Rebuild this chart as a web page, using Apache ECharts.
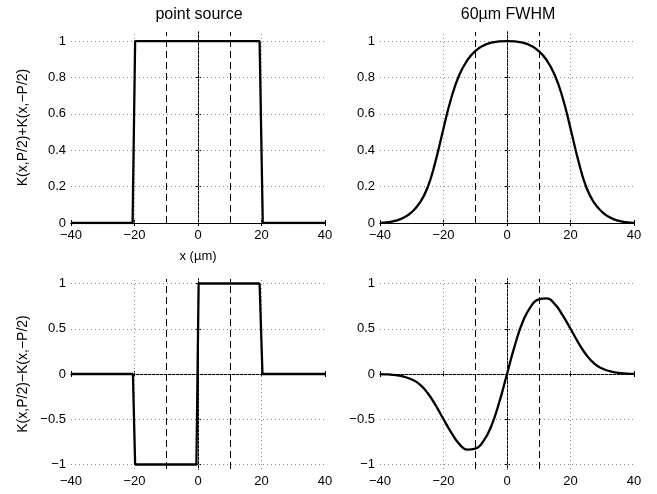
<!DOCTYPE html>
<html><head><meta charset="utf-8">
<script src="https://cdn.jsdelivr.net/npm/echarts@6/dist/echarts.min.js"></script>
<style>html,body{margin:0;padding:0;background:#fff}#c{width:657px;height:494px}</style>
</head><body><div id="c"></div>
<script>
// ---- data ----
const xTicks = [-40, -20, 0, 20, 40];
const sumTicks = [0, 0.2, 0.4, 0.6, 0.8, 1];
const diffTicks = [-1, -0.5, 0, 0.5, 1];
const gridX = [-20, 0, 20];
const markerX = [-10, 10];
const titles = ['point source', '60\u00b5m FWHM'];
const yNames = ['K(x,P/2)+K(x,\u2212P/2)', 'K(x,P/2)\u2212K(x,\u2212P/2)'];
const xName = 'x (\u00b5m)';

const pointSumX = [-40, -20.6, -19.8, 19.4, 20.4, 40];
const pointSumY = [0, 0, 1, 1, 0, 0];
const pointDiffX = [-40, -20.5, -19.8, -0.5, 0.2, 19.4, 20.3, 40];
const pointDiffY = [0, 0, -1, -1, 1, 1, 0, 0];

const blurX = [-40, -37.5, -35, -32.5, -30, -27.5, -25, -22.5, -20, -17.5, -15, -12.5, -10, -7.5, -5, -2.5,
  0, 2.5, 5, 7.5, 10, 12.5, 15, 17.5, 20, 22.5, 25, 27.5, 30, 32.5, 35, 37.5, 40];
const blurSumY = [0.001, 0.005, 0.013, 0.03, 0.06, 0.11, 0.195, 0.34, 0.52, 0.69, 0.815, 0.895, 0.945, 0.975, 0.991, 0.998,
  1.0, 0.998, 0.991, 0.975, 0.945, 0.895, 0.815, 0.69, 0.52, 0.34, 0.195, 0.11, 0.06, 0.03, 0.013, 0.005, 0.001];
const blurDiffY = [-0.001, -0.005, -0.013, -0.03, -0.06, -0.115, -0.21, -0.345, -0.5, -0.65, -0.775, -0.835, -0.825, -0.745, -0.58, -0.32,
  0, 0.32, 0.58, 0.745, 0.825, 0.835, 0.775, 0.65, 0.5, 0.345, 0.21, 0.115, 0.06, 0.03, 0.013, 0.005, 0.001];

// ---- layout ----
const FONT = '"Liberation Sans", Arial, Helvetica, sans-serif';
const grids = [
  {left: 71, top: 32, width: 254, height: 191},
  {left: 380, top: 32, width: 254, height: 191},
  {left: 71, top: 279, width: 254, height: 190},
  {left: 380, top: 279, width: 254, height: 190}
];
const fmt = v => (v < 0 ? '\u2212' + Math.abs(v) : String(v));
const dotted = {color: '#8a8a8a', width: 1, type: [1, 3]};
const axLine = {show: true, lineStyle: {color: '#000', width: 1}};
const tick = {show: true, inside: true, length: 3, lineStyle: {color: '#000'}};

const xAxis = [], yAxis = [], series = [];
grids.forEach((g, i) => {
  const isSum = i < 2;
  const yTicks = isSum ? sumTicks : diffTicks;
  const ymin = isSum ? 0 : -1.05;
  const ymax = 1.05;
  xAxis.push({
    gridIndex: i, type: 'value', min: -40, max: 40, interval: 20, position: 'bottom',
    axisLine: axLine, axisTick: tick,
    axisLabel: {show: true, formatter: fmt, color: '#000', fontFamily: FONT, fontSize: 13, margin: 6},
    splitLine: {show: false},
    name: i === 0 ? xName : '', nameLocation: 'middle', nameGap: 27,
    nameTextStyle: {color: '#000', fontFamily: FONT, fontSize: 13}
  });
  xAxis.push({
    gridIndex: i, type: 'value', min: -40, max: 40, interval: 20, position: 'top',
    axisLine: axLine, axisTick: tick, axisLabel: {show: false}, splitLine: {show: false}
  });
  yAxis.push({
    gridIndex: i, type: 'value', min: ymin, max: ymax, position: 'left',
    axisLine: axLine,
    axisTick: Object.assign({customValues: yTicks}, tick),
    axisLabel: {show: true, formatter: fmt, color: '#000', fontFamily: FONT, fontSize: 13, margin: 5, customValues: yTicks},
    splitLine: {show: false},
    name: (i === 0 || i === 2) ? yNames[i === 0 ? 0 : 1] : '', nameLocation: 'middle', nameGap: 41,
    nameTextStyle: {color: '#000', fontFamily: FONT, fontSize: 14}
  });
  yAxis.push({
    gridIndex: i, type: 'value', min: ymin, max: ymax, position: 'right',
    axisLine: axLine,
    axisTick: Object.assign({customValues: yTicks}, tick),
    axisLabel: {show: false}, splitLine: {show: false}
  });
  const xs = i === 0 ? pointSumX : i === 1 ? blurX : i === 2 ? pointDiffX : blurX;
  const ys = i === 0 ? pointSumY : i === 1 ? blurSumY : i === 2 ? pointDiffY : blurDiffY;
  const marks = [];
  gridX.forEach(v => marks.push({xAxis: v, lineStyle: dotted}));
  yTicks.forEach(v => { if (v > ymin && v < ymax) marks.push({yAxis: v, lineStyle: dotted}); });
  markerX.forEach(v => marks.push({xAxis: v, lineStyle: {color: '#000', width: 1, type: [7, 4]}}));
  series.push({
    type: 'line', xAxisIndex: 2 * i, yAxisIndex: 2 * i,
    data: xs.map((x, k) => [x, ys[k]]),
    showSymbol: false, symbol: 'none', smooth: (i === 1 || i === 3) ? 0.5 : false,
    lineStyle: {color: '#000', width: 2.3}, z: 5, animation: false,
    markLine: {silent: true, symbol: 'none', label: {show: false}, animation: false, data: marks}
  });
});

const graphic = [
  {type: 'text', x: 199, y: 15, style: {text: titles[0], fill: '#000', font: '16px ' + FONT, textAlign: 'center', textVerticalAlign: 'middle'}},
  {type: 'text', x: 508, y: 15, style: {text: titles[1], fill: '#000', font: '16px ' + FONT, textAlign: 'center', textVerticalAlign: 'middle'}}
];

const chart = echarts.init(document.getElementById('c'), null, {renderer: 'canvas'});
chart.setOption({
  animation: false, backgroundColor: '#fff',
  grid: grids.map(g => Object.assign({containLabel: false}, g)),
  xAxis, yAxis, series, graphic
});
</script>
</body></html>
